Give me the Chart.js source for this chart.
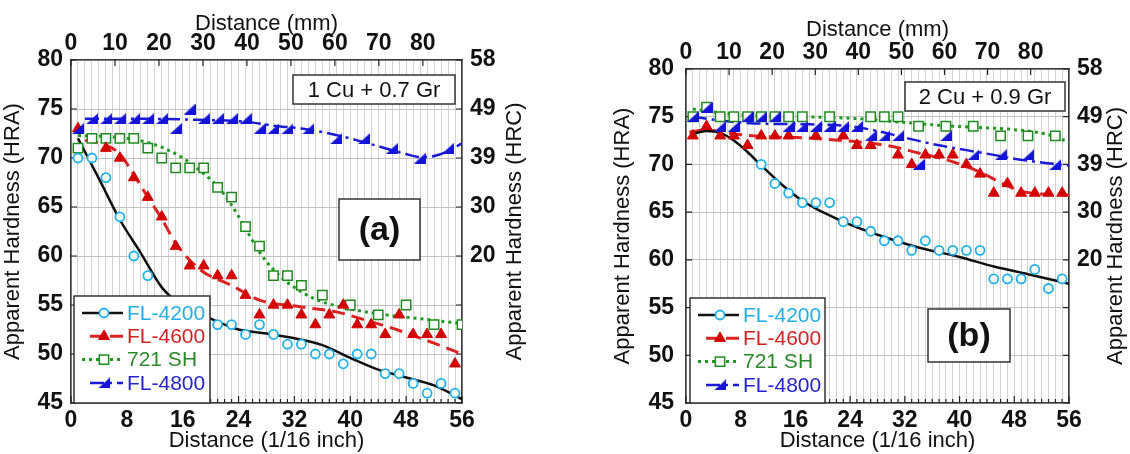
<!DOCTYPE html>
<html>
<head>
<meta charset="utf-8">
<script src="https://cdn.jsdelivr.net/npm/chart.js@4.4.1/dist/chart.umd.min.js"></script>
<style>
  body { margin: 0; background: #fff; width: 1130px; height: 454px; overflow: hidden; position: relative; }
  .panel { position: absolute; top: 0; height: 454px; }
  #wrapA { left: 0; width: 530px; }
  #wrapB { left: 610px; width: 520px; }
</style>
</head>
<body>
<div class="panel" id="wrapA"><canvas id="chartA" width="530" height="454"></canvas></div>
<div class="panel" id="wrapB"><canvas id="chartB" width="520" height="454"></canvas></div>
<script>
// Jominy curves, distance in 1/16 inch, hardness in HRA
const seriesNames = ['FL-4200', 'FL-4600', '721 SH', 'FL-4800'];
const hraTicks = [45, 50, 55, 60, 65, 70, 75, 80];
const hrcTicks = ['', '', '', '20', '30', '39', '49', '58'];
const inchTicks = [0, 8, 16, 24, 32, 40, 48, 56];
const mmTicks = [0, 10, 20, 30, 40, 50, 60, 70, 80];

// (a) 1 Cu + 0.7 Gr - measured points
const a4200X = [1, 3, 5, 7, 9, 11, 13, 15, 17, 19, 21, 23, 25, 27, 29, 31, 33, 35, 37, 39, 41, 43, 45, 47, 49, 51, 53, 55];
const a4200Y = [70, 70, 68, 64, 60, 58, 55, 54, 53, 53, 53, 53, 52, 53, 52, 51, 51, 50, 50, 49, 50, 50, 48, 48, 47, 46, 47, 46];
const a4600X = [1, 5, 7, 9, 11, 13, 15, 17, 19, 21, 23, 25, 27, 29, 31, 33, 35, 37, 39, 41, 43, 45, 47, 49, 51, 53, 55];
const a4600Y = [73, 71, 70, 68, 66, 64, 61, 59, 59, 58, 58, 56, 54, 55, 55, 54, 53, 54, 55, 53, 53, 52, 54, 52, 52, 52, 49];
const a721X = [1, 3, 5, 7, 9, 11, 13, 15, 17, 19, 21, 23, 25, 27, 29, 31, 33, 36, 40, 44, 48, 52, 56];
const a721Y = [71, 72, 72, 72, 72, 71, 70, 69, 69, 69, 67, 66, 63, 61, 58, 58, 57, 56, 55, 54, 55, 53, 53];
const a4800X = [1, 3, 5, 7, 9, 11, 13, 15, 17, 19, 21, 23, 25, 27, 29, 31, 34, 38, 42, 46, 50, 54];
const a4800Y = [73, 74, 74, 74, 74, 74, 74, 73, 75, 74, 74, 74, 74, 73, 73, 73, 73, 72, 72, 71, 70, 71];
// (a) fitted curves
const a4200FitX = [1, 4, 7, 10, 13, 16, 20, 24, 28, 32, 36, 40, 44, 48, 52, 56];
const a4200FitY = [72, 67.9, 63.7, 60.3, 56.8, 54.9, 53.6, 52.5, 52.1, 51.6, 50.9, 49.6, 48.4, 47.6, 46.8, 45.4];
const a4600FitX = [2, 5, 7, 9, 11, 13, 15, 18.5, 23, 27, 33, 38, 42, 47, 52, 56];
const a4600FitY = [71.8, 71.3, 70.4, 68.3, 66.0, 63.8, 61.3, 58.6, 57.0, 55.5, 54.8, 54.3, 53.5, 52.4, 51.1, 50.0];
const a721FitX = [1, 5, 9, 13, 16, 19, 21, 23, 25, 27, 29, 31, 35, 40, 45, 50, 56];
const a721FitY = [72.3, 72.2, 71.9, 71.1, 70.0, 68.4, 67.1, 65.2, 62.8, 60.4, 58.6, 57.3, 55.6, 54.6, 54.0, 53.6, 53.1];
const a4800FitX = [2, 10, 18, 25, 29, 33, 37, 41, 45, 48, 50, 52, 54, 56];
const a4800FitY = [74.0, 74.0, 73.9, 73.7, 73.3, 73.0, 72.5, 71.8, 71.0, 70.4, 70.1, 70.2, 70.7, 71.5];

// (b) 2 Cu + 0.9 Gr - measured points
const b4200X = [11, 13, 15, 17, 19, 21, 23, 25, 27, 29, 31, 33, 35, 37, 39, 41, 43, 45, 47, 49, 51, 53, 55];
const b4200Y = [70, 68, 67, 66, 66, 66, 64, 64, 63, 62, 62, 61, 62, 61, 61, 61, 61, 58, 58, 58, 59, 57, 58];
const b4600X = [1, 3, 5, 7, 9, 11, 13, 15, 19, 23, 25, 27, 31, 33, 35, 37, 39, 41, 43, 45, 47, 49, 51, 53, 55];
const b4600Y = [73, 74, 73, 73, 72, 73, 73, 73, 73, 73, 72, 72, 71, 70, 71, 71, 71, 70, 69, 67, 68, 67, 67, 67, 67];
const b721X = [1, 3, 5, 7, 9, 11, 13, 15, 17, 21, 27, 29, 31, 34, 38, 42, 46, 50, 54];
const b721Y = [75, 76, 75, 75, 75, 75, 75, 75, 75, 75, 75, 75, 75, 74, 74, 74, 73, 73, 73];
const b4800X = [1, 3, 5, 7, 9, 11, 13, 15, 17, 19, 21, 23, 25, 27, 29, 31, 34, 38, 42, 46, 50, 54];
const b4800Y = [75, 76, 74, 74, 75, 75, 75, 74, 74, 74, 74, 74, 74, 73, 73, 73, 70, 73, 71, 71, 71, 70];
// (b) fitted curves
const b4200FitX = [1, 3, 5, 7, 9, 11, 14, 17, 20, 24, 29, 34, 40, 45, 50, 56];
const b4200FitY = [73.2, 73.5, 73.3, 72.5, 71.3, 69.9, 67.9, 66.2, 65.0, 63.7, 62.4, 61.3, 60.3, 59.3, 58.5, 57.5];
const b4600FitX = [0.5, 3, 7, 12, 17, 21, 26, 30, 34, 38, 43, 46, 49, 52, 56];
const b4600FitY = [73.4, 73.6, 73.2, 72.9, 72.8, 72.6, 72.3, 71.9, 71.2, 70.5, 69.2, 68.1, 67.2, 66.9, 66.8];
const b721FitX = [1, 3, 8, 17, 25, 32, 37, 42, 47, 51, 54, 56];
const b721FitY = [75.8, 75.6, 75.2, 75.0, 74.8, 74.4, 74.1, 73.9, 73.7, 73.4, 72.9, 72.3];
const b4800FitX = [1, 5, 10, 18, 24, 28, 32, 37, 41, 45, 48, 52, 56];
const b4800FitY = [75.0, 74.6, 74.3, 74.2, 74.0, 73.5, 72.8, 72.0, 71.5, 71.0, 70.6, 70.2, 69.9];

const mmMax = 56 * 25.4 / 16;
const minorSteps = Array.from({ length: 57 }, (_, i) => i);
const FONT = '"Liberation Sans", Arial, sans-serif';
Chart.defaults.font.family = FONT;

// half triangle marker used for FL-4800
const wedge = document.createElement('canvas');
wedge.width = 12;
wedge.height = 11;
(() => {
    const g = wedge.getContext('2d');
    g.fillStyle = '#1414d6';
    g.beginPath();
    g.moveTo(12, 0);
    g.lineTo(12, 11);
    g.lineTo(0, 11);
    g.closePath();
    g.fill();
})();

const styles = [
    { text: '#22aee9', line: '#111111', dash: [], lw: 2.5, marker: 'circle', r: 4.5, fill: '#ffffff', edge: '#1fb0ee', bw: 1.8, order: 2 },
    { text: '#d42222', line: '#dd2222', dash: [13, 7], lw: 3, marker: 'triangle', r: 6.3, fill: '#d20000', edge: '#d20000', bw: 1, order: 1 },
    { text: '#2a8a2a', line: '#1f9a1f', dash: [3, 4], lw: 3, marker: 'rect', r: 6.6, fill: '#ffffff', edge: '#1f8a1f', bw: 1.5, order: 3 },
    { text: '#2323d2', line: '#1a1ad8', dash: [14, 5, 3, 5], lw: 2.5, marker: wedge, r: 6, fill: '#1414d6', edge: '#1414d6', bw: 1, order: 0 }
];

function drawMarker(ctx, st, x, y) {
    ctx.save();
    ctx.setLineDash([]);
    ctx.fillStyle = st.fill;
    ctx.strokeStyle = st.edge;
    ctx.lineWidth = st.bw;
    ctx.beginPath();
    if (st.marker === 'circle') {
        ctx.arc(x, y, st.r, 0, Math.PI * 2);
    } else if (st.marker === 'triangle') {
        for (let k = 0; k < 3; k++) {
            const ang = k * Math.PI * 2 / 3;
            const px = x + Math.sin(ang) * st.r, py = y - Math.cos(ang) * st.r;
            if (k === 0) ctx.moveTo(px, py); else ctx.lineTo(px, py);
        }
        ctx.closePath();
    } else if (st.marker === 'rect') {
        const h = st.r * Math.SQRT1_2;
        ctx.rect(x - h, y - h, 2 * h, 2 * h);
    } else {
        ctx.drawImage(st.marker, x - st.marker.width / 2, y - st.marker.height / 2);
        ctx.restore();
        return;
    }
    ctx.fill();
    ctx.stroke();
    ctx.restore();
}

// inward tick marks on all four sides
const innerTicks = {
    id: 'innerTicks',
    beforeDatasetsDraw(chart) {
        const { ctx, chartArea: a, scales } = chart;
        ctx.save();
        ctx.strokeStyle = '#222';
        ctx.lineWidth = 1.2;
        ctx.beginPath();
        hraTicks.forEach(v => {
            const y = scales.y.getPixelForValue(v);
            ctx.moveTo(a.left, y); ctx.lineTo(a.left + 6, y);
            ctx.moveTo(a.right, y); ctx.lineTo(a.right - 6, y);
        });
        minorSteps.forEach(v => {
            const x = scales.x.getPixelForValue(v);
            const len = inchTicks.includes(v) ? 7 : 4;
            ctx.moveTo(x, a.bottom); ctx.lineTo(x, a.bottom - len);
        });
        mmTicks.forEach(v => {
            const x = scales.x2.getPixelForValue(v);
            ctx.moveTo(x, a.top); ctx.lineTo(x, a.top + 6);
        });
        ctx.stroke();
        ctx.restore();
    }
};

function frame(ctx, x, y, w, h) {
    ctx.fillStyle = '#fff';
    ctx.fillRect(x, y, w, h);
    ctx.strokeStyle = '#333';
    ctx.lineWidth = 1.5;
    ctx.strokeRect(x, y, w, h);
}

// note box, panel tag, legend and right axis title
const panelDecor = {
    id: 'panelDecor',
    afterDatasetsDraw(chart, args, o) {
        const { ctx, chartArea: a } = chart;
        ctx.save();
        ctx.textBaseline = 'middle';

        const nx = a.right - o.note.right - o.note.w, ny = a.top + o.note.top;
        frame(ctx, nx, ny, o.note.w, o.note.h);
        ctx.fillStyle = '#111';
        ctx.font = '22px ' + FONT;
        ctx.textAlign = 'center';
        ctx.fillText(o.note.text, nx + o.note.w / 2, ny + o.note.h / 2 + 1);

        const tx = a.right - o.tag.right - o.tag.w, ty = a.top + o.tag.top;
        frame(ctx, tx, ty, o.tag.w, o.tag.h);
        ctx.fillStyle = '#111';
        ctx.font = 'bold 34px ' + FONT;
        ctx.fillText(o.tag.text, tx + o.tag.w / 2, ty + o.tag.h / 2 + 1);

        const lx = a.left + o.legend.left, ly = a.bottom - o.legend.h;
        frame(ctx, lx, ly, o.legend.w, o.legend.h);
        ctx.font = '21px ' + FONT;
        ctx.textAlign = 'left';
        seriesNames.forEach((name, i) => {
            const st = styles[i];
            const ry = ly + 17 + i * 23.3;
            ctx.save();
            ctx.strokeStyle = st.line;
            ctx.lineWidth = st.lw;
            ctx.setLineDash(st.dash);
            ctx.beginPath();
            ctx.moveTo(lx + (i % 2 ? 16 : 8), ry);
            ctx.lineTo(lx + 49, ry);
            ctx.stroke();
            ctx.restore();
            drawMarker(ctx, st, lx + 30, ry);
            ctx.fillStyle = st.text;
            ctx.fillText(name, lx + 53, ry + 1);
        });

        ctx.translate(a.right + o.rightTitle, (a.top + a.bottom) / 2);
        ctx.rotate(-Math.PI / 2);
        ctx.textAlign = 'center';
        ctx.fillStyle = '#111';
        ctx.font = '22px ' + FONT;
        ctx.fillText('Apparent Hardness (HRC)', 0, 0);
        ctx.restore();
    }
};

function makePanel(canvasId, p) {
    const datasets = [];
    p.points.forEach((pts, i) => {
        const st = styles[i];
        datasets.push({
            type: 'scatter',
            label: seriesNames[i],
            data: pts[0].map((x, k) => ({ x: x, y: pts[1][k] })),
            pointStyle: st.marker,
            pointRadius: st.r,
            pointHoverRadius: st.r,
            pointBackgroundColor: st.fill,
            pointBorderColor: st.edge,
            pointBorderWidth: st.bw,
            showLine: false,
            order: st.order
        });
    });
    p.fits.forEach((f, i) => {
        const st = styles[i];
        datasets.push({
            type: 'line',
            label: seriesNames[i] + ' fit',
            data: f[0].map((x, k) => ({ x: x, y: f[1][k] })),
            borderColor: st.line,
            borderWidth: st.lw,
            borderDash: st.dash,
            pointRadius: 0,
            cubicInterpolationMode: 'monotone',
            fill: false,
            order: 10 + i
        });
    });

    const tickFont = { size: 23, weight: 'bold' };
    const border = { display: true, color: '#3a3a3a', width: 1.6 };

    return new Chart(document.getElementById(canvasId), {
        type: 'scatter',
        data: { datasets },
        options: {
            responsive: false,
            animation: false,
            events: [],
            layout: { padding: 0 },
            plugins: {
                legend: { display: false },
                tooltip: { enabled: false },
                panelDecor: p.decor
            },
            scales: {
                x: {
                    type: 'linear', position: 'bottom', min: 0, max: 56,
                    afterBuildTicks: s => { s.ticks = minorSteps.map(v => ({ value: v })); },
                    afterFit: s => { s.height = p.box.bottom; },
                    ticks: { autoSkip: false, maxRotation: 0, padding: 4, color: '#111', font: tickFont,
                        callback: v => inchTicks.includes(v) ? String(v) : '' },
                    grid: { color: '#d3d3d3', lineWidth: 1, drawTicks: false },
                    border: border,
                    title: { display: true, text: 'Distance (1/16 inch)', color: '#111', font: { size: 22 }, padding: { top: 0, bottom: 0 } }
                },
                x2: {
                    type: 'linear', position: 'top', min: 0, max: mmMax,
                    afterBuildTicks: s => { s.ticks = mmTicks.map(v => ({ value: v })); },
                    afterFit: s => { s.height = p.box.top; },
                    ticks: { autoSkip: false, maxRotation: 0, padding: 3, color: '#111', font: tickFont },
                    grid: { drawOnChartArea: false, drawTicks: false },
                    border: border,
                    title: { display: true, text: 'Distance (mm)', color: '#111', font: { size: 22 }, padding: { top: p.topTitlePad, bottom: 0 } }
                },
                y: {
                    type: 'linear', position: 'left', min: 45, max: 80,
                    afterBuildTicks: s => { s.ticks = hraTicks.map(v => ({ value: v })); },
                    afterFit: s => { s.width = p.box.left; },
                    ticks: { padding: p.yPad, color: '#111', font: tickFont },
                    grid: { color: '#c2c2c2', lineWidth: 1, drawTicks: false },
                    border: border,
                    title: { display: true, text: 'Apparent Hardness (HRA)', color: '#111', font: { size: 22 }, padding: { top: 0, bottom: 0 } }
                },
                y2: {
                    type: 'linear', position: 'right', min: 45, max: 80,
                    afterBuildTicks: s => { s.ticks = hraTicks.map(v => ({ value: v })); },
                    afterFit: s => { s.width = p.box.right; },
                    ticks: { padding: 8, color: '#111', font: tickFont,
                        callback: v => hrcTicks[hraTicks.indexOf(v)] },
                    grid: { drawOnChartArea: false, drawTicks: false },
                    border: border
                }
            }
        },
        plugins: [innerTicks, panelDecor]
    });
}

makePanel('chartA', {
    points: [[a4200X, a4200Y], [a4600X, a4600Y], [a721X, a721Y], [a4800X, a4800Y]],
    fits: [[a4200FitX, a4200FitY], [a4600FitX, a4600FitY], [a721FitX, a721FitY], [a4800FitX, a4800FitY]],
    box: { left: 71, right: 68, top: 60, bottom: 51 },
    topTitlePad: 11,
    yPad: 8,
    decor: {
        note: { text: '1 Cu + 0.7 Gr', right: 7, top: 15, w: 162, h: 29 },
        tag: { text: '(a)', right: 42, top: 139, w: 81, h: 61 },
        legend: { left: 3, w: 136, h: 107 },
        rightTitle: 53
    }
});

makePanel('chartB', {
    points: [[b4200X, b4200Y], [b4600X, b4600Y], [b721X, b721Y], [b4800X, b4800Y]],
    fits: [[b4200FitX, b4200FitY], [b4600FitX, b4600FitY], [b721FitX, b721FitY], [b4800FitX, b4800FitY]],
    box: { left: 76, right: 61, top: 69, bottom: 51 },
    topTitlePad: 17,
    yPad: 12,
    decor: {
        note: { text: '2 Cu + 0.9 Gr', right: 4, top: 13, w: 160, h: 29 },
        tag: { text: '(b)', right: 59, top: 240, w: 82, h: 53 },
        legend: { left: 4, w: 135, h: 105 },
        rightTitle: 47
    }
});
</script>
</body>
</html>
